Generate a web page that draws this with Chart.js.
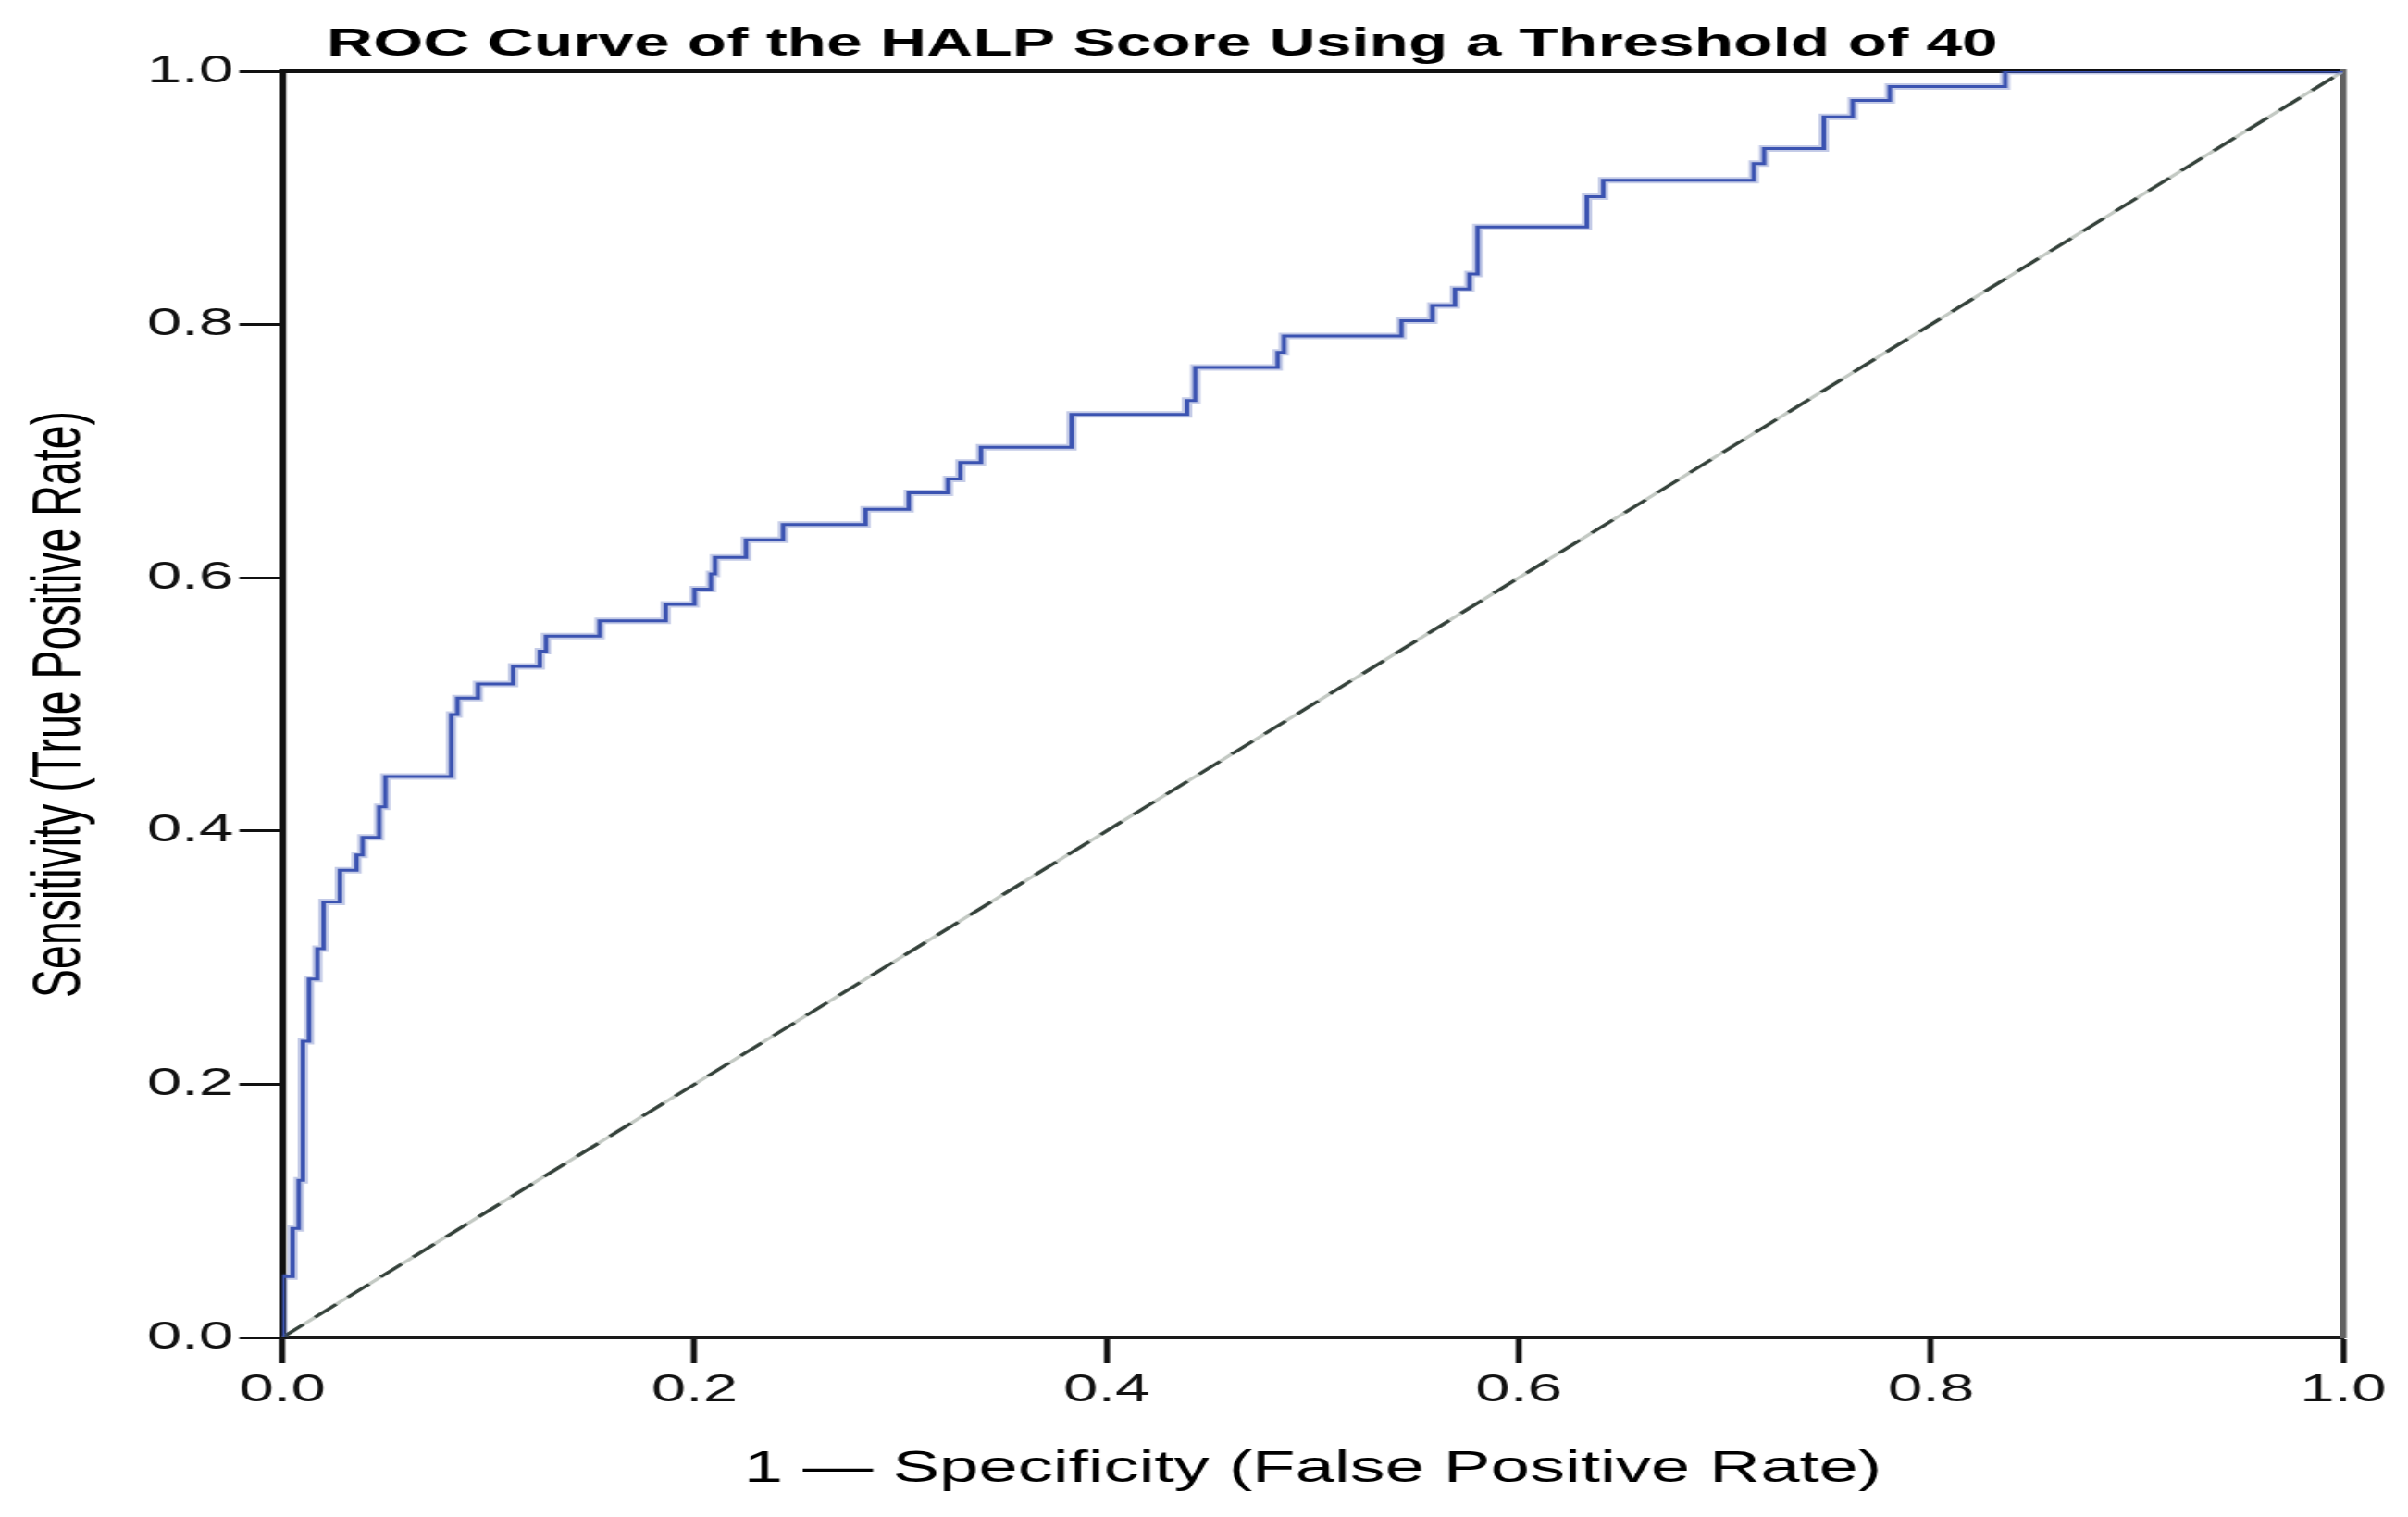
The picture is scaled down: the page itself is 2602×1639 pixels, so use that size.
<!DOCTYPE html>
<html>
<head>
<meta charset="utf-8">
<script src="https://cdn.jsdelivr.net/npm/chart.js@4/dist/chart.umd.min.js"></script>
<style>
  html, body { margin: 0; padding: 0; background: #fff; overflow: hidden; }
  /* the original picture is stretched sideways, so draw narrow and widen */
  #wrap { width: 1626px; height: 1639px; transform: scaleX(1.60025); transform-origin: 0 0; }
</style>
</head>
<body>
<div id="wrap"><canvas id="roc" width="1626" height="1639"></canvas></div>
<script>
// ROC points (top of each vertical step)
const fpr = [0, 0, 0.005, 0.008, 0.010, 0.013, 0.017, 0.020, 0.028, 0.036,
  0.039, 0.047, 0.050, 0.082, 0.085, 0.095, 0.112, 0.125, 0.128, 0.154,
  0.186, 0.200, 0.208, 0.210, 0.225, 0.243, 0.283, 0.304, 0.323, 0.329,
  0.339, 0.383, 0.439, 0.443, 0.483, 0.486, 0.543, 0.558, 0.569, 0.576,
  0.580, 0.633, 0.641, 0.714, 0.719, 0.748, 0.762, 0.780, 0.836, 1.0];
const tpr = [0, 0.048, 0.086, 0.124, 0.234, 0.283, 0.307, 0.344, 0.369, 0.381,
  0.395, 0.419, 0.443, 0.492, 0.505, 0.516, 0.530, 0.542, 0.554, 0.566,
  0.579, 0.591, 0.603, 0.616, 0.630, 0.642, 0.654, 0.667, 0.678, 0.691,
  0.703, 0.729, 0.740, 0.766, 0.778, 0.791, 0.803, 0.815, 0.828, 0.840,
  0.877, 0.901, 0.914, 0.927, 0.939, 0.964, 0.977, 0.988, 1.0, 1.0];

// reference line
const diagX = [0, 1];
const diagY = [0, 1];

const tickStep = 0.2;
const titleText = 'ROC Curve of the HALP Score Using a Threshold of 40';
const xTitle = '1 \u2014 Specificity (False Positive Rate)';
const yTitle = 'Sensitivity (True Positive Rate)';

const curvaPts = fpr.map((x, i) => ({ x: x, y: tpr[i] }));
const diagPts = diagX.map((x, i) => ({ x: x, y: diagY[i] }));

const azul = '#3b53b1';
const fonte = '"Liberation Sans", Arial, sans-serif';

// title sits left of centre in the original, so draw it ourselves
const tituloPlugin = {
  id: 'tituloPlugin',
  afterDraw(chart) {
    const ctx = chart.ctx;
    ctx.save();
    ctx.font = 'bold 43.4px ' + fonte;
    ctx.fillStyle = '#000';
    ctx.textBaseline = 'alphabetic';
    ctx.textAlign = 'left';
    ctx.fillText(titleText, 220.6, 60);
    ctx.restore();
  }
};

Chart.defaults.font.family = fonte;
Chart.defaults.color = '#111';

new Chart(document.getElementById('roc'), {
  type: 'scatter',
  data: {
    datasets: [
      { data: curvaPts, showLine: true, stepped: true, borderColor: azul, borderWidth: 3, pointRadius: 0, order: 1 },
      { data: curvaPts, showLine: true, stepped: true, borderColor: 'rgba(59,83,177,0.3)', borderWidth: 7, pointRadius: 0, order: 2 },
      { data: diagPts, showLine: true, borderColor: '#34413a', borderWidth: 3, borderDash: [20, 11], pointRadius: 0, order: 3 },
      { data: diagPts, showLine: true, borderColor: '#c3c9c3', borderWidth: 3, pointRadius: 0, order: 4 }
    ]
  },
  options: {
    responsive: false,
    devicePixelRatio: 1,
    animation: false,
    layout: { padding: { top: 77, right: 43.8, bottom: 0, left: 0 } },
    plugins: {
      legend: { display: false },
      tooltip: { enabled: false }
    },
    scales: {
      x: {
        type: 'linear', position: 'bottom', min: 0, max: 1,
        afterFit: s => { s.height = 194; },
        ticks: { stepSize: tickStep, autoSkip: false, maxRotation: 0, padding: 4,
          font: { size: 42 }, color: '#111', callback: v => v.toFixed(1) },
        grid: { drawOnChartArea: false, drawTicks: true, tickLength: 28, tickWidth: 4, tickColor: '#111' },
        border: { display: true, color: '#1a1a1a', width: 4 },
        title: { display: true, text: xTitle, color: '#000', font: { size: 47.5 }, padding: { top: 0, bottom: 23 } }
      },
      y: {
        type: 'linear', position: 'left', min: 0, max: 1,
        afterFit: s => { s.width = 190.6; },
        ticks: { stepSize: tickStep, autoSkip: false, padding: 4,
          font: { size: 42 }, color: '#111', callback: v => v.toFixed(1) },
        grid: { drawOnChartArea: false, drawTicks: true, tickLength: 29, tickWidth: 3, tickColor: '#111' },
        border: { display: true, color: '#111', width: 4.2 },
        title: { display: true, text: yTitle, color: '#000', font: { size: 46.5 }, padding: { top: 13, bottom: 0 } }
      },
      x2: {
        type: 'linear', position: 'top', min: 0, max: 1,
        afterFit: s => { s.height = 0; },
        ticks: { display: false },
        grid: { display: false, drawTicks: false },
        border: { display: true, color: '#111', width: 4 }
      },
      y2: {
        type: 'linear', position: 'right', min: 0, max: 1,
        afterFit: s => { s.width = 0; },
        ticks: { display: false },
        grid: { display: false, drawTicks: false },
        border: { display: true, color: '#626262', width: 4.5 }
      }
    }
  },
  plugins: [tituloPlugin]
});
</script>
</body>
</html>
